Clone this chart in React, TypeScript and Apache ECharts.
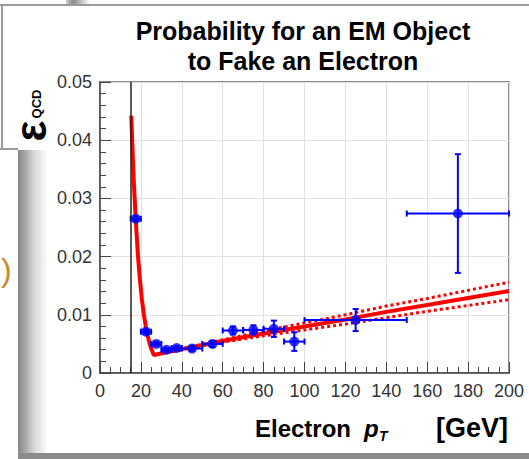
import React, { useEffect, useRef } from "react";
import * as echarts from "echarts";

// ---- measured points (bin centre, fake rate, half bin width, stat. error)
const binCenters = [17.5, 22.5, 27.5, 32.5, 37.5, 45, 55, 65, 75, 85, 95, 125, 175];
const fakeRate = [0.0265, 0.0071, 0.005, 0.004, 0.0043, 0.0042, 0.005, 0.0073, 0.0074, 0.0076, 0.0054, 0.0091, 0.0274];
const binHalfWidth = [2.5, 2.5, 2.5, 2.5, 2.5, 5, 5, 5, 5, 5, 5, 25, 25];
const rateError = [0.0004, 0.0003, 0.0003, 0.0003, 0.0003, 0.0004, 0.0005, 0.0007, 0.0008, 0.0014, 0.0016, 0.0019, 0.0102];

// ---- fit curve
const fitPt = [15.3, 16, 16.6, 17.6, 18.6, 19.5, 20.5, 21.5, 22.8, 24, 25, 26.3, 40, 60, 80, 100, 120, 140, 160, 180, 200];
const fitValue = [0.0442, 0.0374, 0.0323, 0.0256, 0.02, 0.0161, 0.0126, 0.0099, 0.0072, 0.0054, 0.0042, 0.0031, 0.0041, 0.0055, 0.0068, 0.008, 0.0092, 0.0105, 0.0117, 0.0129, 0.0141];

// ---- fit uncertainty band
const bandPt = [30, 40, 60, 80, 100, 120, 140, 160, 180, 200];
const bandUpper = [0.0035, 0.0042, 0.0057, 0.0072, 0.0086, 0.01, 0.0115, 0.0128, 0.0142, 0.0156];
const bandLower = [0.0033, 0.004, 0.0053, 0.0064, 0.0074, 0.0084, 0.0095, 0.0106, 0.0116, 0.0126];

const cutPt = 15;

const X_MIN = 0, X_MAX = 200, X_STEP = 20;
const Y_MIN = 0, Y_MAX = 0.05, Y_STEP = 0.01;

const FONT = '"Liberation Sans", Arial, Helvetica, sans-serif';

export default function App() {
  const ref = useRef<HTMLDivElement>(null);
  useEffect(() => {
    if (!ref.current) return;
    const chart = echarts.init(ref.current, undefined, { renderer: "svg" });
    const blue = "#0000ff";
    const red = "#ff0000";
    const errData = binCenters.map((x, i) => [x, fakeRate[i], binHalfWidth[i], rateError[i]]);
    const txt = (x: number, y: number, text: string, size: number, align: string, extra: any = {}, rot = 0) => ({
      type: "text", x, y, rotation: rot,
      style: {
        text, fill: "#000", fontSize: size, fontWeight: "bold", fontFamily: FONT,
        align, verticalAlign: "middle", textAlign: align, textVerticalAlign: "middle", ...extra,
      },
    });

    const option: any = {
      animation: false,
      backgroundColor: "#ffffff",
      textStyle: { fontFamily: FONT },
      grid: {
        left: 100, right: 20, top: 82, bottom: 86,
        show: true, borderColor: "#666", borderWidth: 1.5, backgroundColor: "transparent",
      },
      xAxis: {
        type: "value", min: X_MIN, max: X_MAX, interval: X_STEP,
        axisLine: { show: true, lineStyle: { color: "#444", width: 1.5 } },
        axisTick: { show: true, inside: true, length: 11, lineStyle: { color: "#444", width: 1 } },
        minorTick: { show: true, splitNumber: 4, length: 6, lineStyle: { color: "#444", width: 1 } },
        splitLine: { show: true, lineStyle: { color: "#e0e0e0", width: 1 } },
        axisLabel: { fontSize: 18, color: "#333", margin: 9, fontFamily: FONT },
      },
      yAxis: {
        type: "value", min: Y_MIN, max: Y_MAX, interval: Y_STEP,
        axisLine: { show: true, lineStyle: { color: "#444", width: 1.5 } },
        axisTick: { show: true, inside: true, length: 11, lineStyle: { color: "#444", width: 1 } },
        minorTick: { show: true, splitNumber: 5, length: 6, lineStyle: { color: "#444", width: 1 } },
        splitLine: { show: true, lineStyle: { color: "#e0e0e0", width: 1 } },
        axisLabel: {
          fontSize: 18, color: "#333", margin: 8, fontFamily: FONT,
          formatter: (v: number) => (v === 0 ? "0" : v.toFixed(2)),
        },
      },
      graphic: [
        // frame / shadow decoration of the screenshot
        { type: "rect", z: -10, shape: { x: 66, y: 0, width: 24, height: 5 },
          style: { fill: new echarts.graphic.LinearGradient(0, 0, 1, 0, [
            { offset: 0, color: "#d0d0d0" }, { offset: 0.3, color: "#8a8a8a" }, { offset: 1, color: "#ffffff" }]) } },
        { type: "line", z: -10, shape: { x1: 0, y1: 5, x2: 529, y2: 5 }, style: { stroke: "#9a9a9a", lineWidth: 2 } },
        { type: "line", z: -10, shape: { x1: 2, y1: 5, x2: 2, y2: 149 }, style: { stroke: "#9a9a9a", lineWidth: 2 } },
        { type: "line", z: -10, shape: { x1: 0, y1: 149, x2: 18, y2: 149 }, style: { stroke: "#9a9a9a", lineWidth: 2 } },
        { type: "rect", z: -10, shape: { x: 18, y: 150, width: 30, height: 305 },
          style: { fill: new echarts.graphic.LinearGradient(0, 0, 1, 0, [
            { offset: 0, color: "#858585" }, { offset: 0.2, color: "#a0a0a0" }, { offset: 0.55, color: "#d8d8d8" }, { offset: 1, color: "#ffffff" }]) } },
        { type: "rect", z: -10, shape: { x: 18, y: 453, width: 511, height: 6 }, style: { fill: "#8c8c8c" } },
        { type: "text", z: -10, x: 1, y: 270,
          style: { text: ")", fill: "#c98a2b", fontSize: 32, fontFamily: FONT, align: "left", verticalAlign: "middle", textAlign: "left", textVerticalAlign: "middle" } },
        // title
        txt(303, 31, "Probability for an EM Object", 25, "center"),
        txt(303, 61, "to Fake an Electron", 25, "center"),
        // y title
        txt(30, 131, "ε", 44, "center", {}, Math.PI / 2),
        txt(36, 104, "QCD", 13, "center", {}, Math.PI / 2),
        // x title
        txt(255, 428, "Electron", 24, "left"),
        txt(364, 428, "p", 24, "left", { fontStyle: "italic" }),
        txt(379, 436, "T", 14, "left", { fontStyle: "italic" }),
        txt(508, 428, "[GeV]", 27, "right"),
      ],
      series: [
        {
          type: "line", name: "band up", data: bandPt.map((x, i) => [x, bandUpper[i]]),
          showSymbol: false, symbol: "none", z: 2, silent: true,
          lineStyle: { color: red, width: 3, type: [3, 3] },
        },
        {
          type: "line", name: "band down", data: bandPt.map((x, i) => [x, bandLower[i]]),
          showSymbol: false, symbol: "none", z: 2, silent: true,
          lineStyle: { color: red, width: 3, type: [3, 3] },
        },
        {
          type: "line", name: "fit", data: fitPt.map((x, i) => [x, fitValue[i]]),
          showSymbol: false, symbol: "none", z: 3, silent: true,
          lineStyle: { color: red, width: 4 },
          markLine: {
            silent: true, symbol: ["none", "none"], label: { show: false },
            lineStyle: { color: "#222", width: 1.5, type: "solid" },
            data: [{ xAxis: cutPt }],
          },
        },
        {
          type: "custom", name: "errors", data: errData, encode: { x: 0, y: 1 }, z: 4, silent: true,
          renderItem: (_p: any, api: any) => {
            const x = api.value(0), y = api.value(1), xe = api.value(2), ye = api.value(3);
            const c = api.coord([x, y]);
            const l = api.coord([x - xe, y]);
            const r = api.coord([x + xe, y]);
            const t = api.coord([x, y + ye]);
            const b = api.coord([x, y - ye]);
            const cap = 3;
            const st = { stroke: blue, lineWidth: 2 };
            return {
              type: "group",
              children: [
                { type: "line", shape: { x1: l[0], y1: c[1], x2: r[0], y2: c[1] }, style: st },
                { type: "line", shape: { x1: l[0], y1: c[1] - cap, x2: l[0], y2: c[1] + cap }, style: st },
                { type: "line", shape: { x1: r[0], y1: c[1] - cap, x2: r[0], y2: c[1] + cap }, style: st },
                { type: "line", shape: { x1: c[0], y1: t[1], x2: c[0], y2: b[1] }, style: st },
                { type: "line", shape: { x1: c[0] - cap, y1: t[1], x2: c[0] + cap, y2: t[1] }, style: st },
                { type: "line", shape: { x1: c[0] - cap, y1: b[1], x2: c[0] + cap, y2: b[1] }, style: st },
              ],
            };
          },
        },
        {
          type: "scatter", name: "data", data: binCenters.map((x, i) => [x, fakeRate[i]]),
          symbol: "circle", symbolSize: 10, z: 5, silent: true,
          itemStyle: { color: blue },
        },
      ],
    };
    chart.setOption(option);
    return () => chart.dispose();
  }, []);

  return (
    <div
      ref={ref}
      style={{ position: "fixed", left: 0, top: 0, width: 529, height: 459, background: "#fff" }}
    />
  );
}
